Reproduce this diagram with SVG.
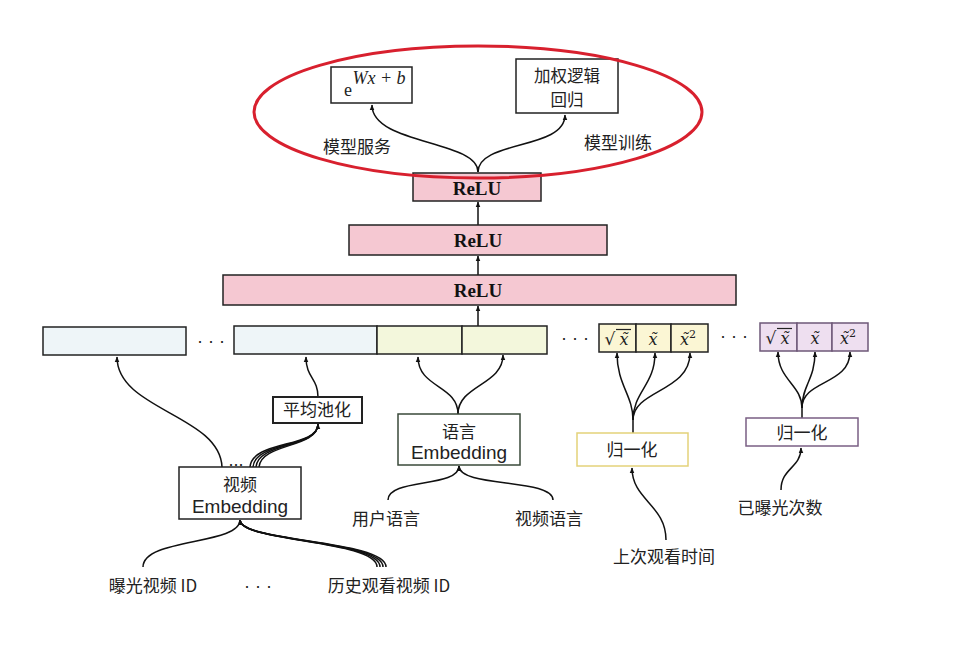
<svg xmlns="http://www.w3.org/2000/svg" width="976" height="652" viewBox="0 0 976 652">
<defs>
<marker id="ah" viewBox="0 0 10 10" refX="9" refY="5" markerWidth="6" markerHeight="6" orient="auto" markerUnits="userSpaceOnUse">
<path d="M0,1 L10,5 L0,9 z" fill="#111"/>
</marker>
<style>
.t{font-family:"Noto Sans CJK SC","Liberation Sans",sans-serif;font-size:17px;fill:#222;text-anchor:middle}
.e{font-family:"Liberation Sans","Noto Sans CJK SC",sans-serif;font-size:19px;fill:#222;text-anchor:middle}
.relu{font-family:"Liberation Serif",serif;font-weight:bold;font-size:19px;fill:#111;text-anchor:middle}
.m{font-family:"DejaVu Serif","Liberation Serif",serif;font-style:italic;font-size:16px;fill:#222;text-anchor:middle}
.box{fill:#fff;stroke:#222;stroke-width:1.5}
.pink{fill:#f5c8d2;stroke:#222;stroke-width:1.5}
.blue{fill:#eef5f8;stroke:#222;stroke-width:1.5}
.green{fill:#f3f7dc;stroke:#222;stroke-width:1.5}
.yel{fill:#fbf6d4;stroke:#222;stroke-width:1.5}
.pur{fill:#eedff0;stroke:#6e5878;stroke-width:1.5}
.c{fill:none;stroke:#111;stroke-width:1.5}
.dots{font-family:"Liberation Sans",sans-serif;font-size:18px;fill:#222;text-anchor:middle}
</style>
</defs>
<rect width="976" height="652" fill="#fff"/>

<g id="connectors">
<path class="c" d="M478,172 C478,140 372,145 372,105" marker-end="url(#ah)"/>
<path class="c" d="M478,172 C478,140 565,150 565,115" marker-end="url(#ah)"/>
<path class="c" d="M478,225 L478,202" marker-end="url(#ah)"/>
<path class="c" d="M478,275 L478,256" marker-end="url(#ah)"/>
<path class="c" d="M478,326 L478,306" marker-end="url(#ah)"/>
<path class="c" d="M222,467 C220,415 117,410 117,357" marker-end="url(#ah)"/>
<path class="c" d="M250,467 C252,440 318,448 318,424" marker-end="url(#ah)"/>
<path class="c" d="M253,467 C255,441 318,448 318,424"/>
<path class="c" d="M256,467 C258,442 318,448 318,424"/>
<path class="c" d="M259,467 C261,443 318,448 318,424"/>
<path class="c" d="M318,397 C318,378 306,378 306,357" marker-end="url(#ah)"/>
<path class="c" d="M458,414 C458,385 418,388 418,357" marker-end="url(#ah)"/>
<path class="c" d="M458,414 C458,385 503,385 503,355" marker-end="url(#ah)"/>
<path class="c" d="M388,500 C388,478 459,488 459,466" marker-end="url(#ah)"/>
<path class="c" d="M553,500 C553,478 459,488 459,466" marker-end="url(#ah)"/>
<path class="c" d="M143,567 C143,538 240,545 240,520" marker-end="url(#ah)"/>
<path class="c" d="M377,567 C377,540 240,542 240,520"/>
<path class="c" d="M380,567 C380,540 240,542 240,520"/>
<path class="c" d="M383,567 C383,540 240,542 240,520"/>
<path class="c" d="M386,567 C386,540 240,542 240,520"/>
<path class="c" d="M633,433 L633,420 C633,395 617,385 617,353" marker-end="url(#ah)"/>
<path class="c" d="M633,420 C633,392 655,385 655,353" marker-end="url(#ah)"/>
<path class="c" d="M633,420 C633,390 690,392 690,353" marker-end="url(#ah)"/>
<path class="c" d="M802,418 L802,408 C802,385 778,380 778,352" marker-end="url(#ah)"/>
<path class="c" d="M802,408 C802,385 815,380 815,352" marker-end="url(#ah)"/>
<path class="c" d="M802,408 C802,380 850,385 850,352" marker-end="url(#ah)"/>
<path class="c" d="M666,540 C666,505 632,500 632,468" marker-end="url(#ah)"/>
<path class="c" d="M781,490 C781,468 801,468 801,448" marker-end="url(#ah)"/>
</g>

<g id="serve-box">
<rect class="box" x="331" y="67" width="81" height="36"/>
<text x="348" y="96" font-family="Liberation Serif,serif" font-size="18" fill="#222" text-anchor="middle">e</text>
<text x="379" y="84" font-family="Liberation Serif,serif" font-style="italic" font-size="18" fill="#222" text-anchor="middle">Wx + b</text>
</g>
<g id="train-box">
<rect class="box" x="516" y="59" width="102" height="54"/>
<text class="t" x="567" y="82" style="font-size:16.5px">加权逻辑</text>
<text class="t" x="567" y="106" style="font-size:16.5px">回归</text>
</g>
<g id="labels-top">
<text class="t" x="357" y="153">模型服务</text>
<text class="t" x="618" y="149">模型训练</text>
</g>

<g id="relu3">
<rect class="pink" x="413" y="173" width="128" height="28"/>
<text class="relu" x="477" y="195">ReLU</text>
</g>
<g id="relu2">
<rect class="pink" x="349" y="225" width="258" height="30"/>
<text class="relu" x="478" y="247">ReLU</text>
</g>
<g id="relu1">
<rect class="pink" x="223" y="275" width="513" height="30"/>
<text class="relu" x="478" y="297">ReLU</text>
</g>

<g id="ellipse">
<ellipse cx="478" cy="112" rx="224" ry="66" fill="none" stroke="#d8202e" stroke-width="3"/>
</g>

<g id="feat-video1">
<rect class="blue" x="43" y="327" width="143" height="28"/>
</g>
<text class="dots" x="211" y="347">· · ·</text>
<g id="feat-video2">
<rect class="blue" x="234" y="326" width="143" height="28"/>
</g>
<g id="feat-lang">
<rect class="green" x="377" y="326" width="85" height="28"/>
<rect class="green" x="462" y="326" width="85" height="28"/>
</g>
<text class="dots" x="575" y="344">· · ·</text>
<g id="feat-time">
<rect class="yel" x="599" y="324" width="37" height="28"/>
<rect class="yel" x="636" y="324" width="35" height="28"/>
<rect class="yel" x="671" y="324" width="37" height="28"/>
<text x="610" y="345" font-family="DejaVu Serif,serif" font-size="17" fill="#222" text-anchor="middle">√</text>
<line x1="616" y1="329.5" x2="631" y2="329.5" stroke="#222" stroke-width="1.2"/>
<text class="m" x="624" y="345">x̃</text>
<text class="m" x="653" y="345">x̃</text>
<text class="m" x="688" y="345">x̃<tspan font-size="11" font-style="normal" dy="-7">2</tspan></text>
</g>
<text class="dots" x="734" y="342">· · ·</text>
<g id="feat-count">
<rect class="pur" x="760" y="323" width="37" height="28"/>
<rect class="pur" x="797" y="323" width="35" height="28"/>
<rect class="pur" x="832" y="323" width="36" height="28"/>
<text x="771" y="344" font-family="DejaVu Serif,serif" font-size="17" fill="#222" text-anchor="middle">√</text>
<line x1="777" y1="328.5" x2="792" y2="328.5" stroke="#222" stroke-width="1.2"/>
<text class="m" x="785" y="344">x̃</text>
<text class="m" x="815" y="344">x̃</text>
<text class="m" x="848" y="344">x̃<tspan font-size="11" font-style="normal" dy="-7">2</tspan></text>
</g>

<g id="avgpool">
<rect class="box" x="273" y="397" width="89" height="26" style="stroke-width:2"/>
<text class="t" x="317" y="416">平均池化</text>
</g>
<g id="video-emb">
<rect class="box" x="179" y="467" width="122" height="52" stroke="#333"/>
<text class="t" x="240" y="491">视频</text>
<text class="e" x="240" y="513">Embedding</text>
<text class="dots" x="236" y="466" font-size="14">...</text>
</g>
<g id="lang-emb">
<rect class="box" x="398" y="414" width="122" height="51" style="stroke:#3a4a3a"/>
<text class="t" x="459" y="438">语言</text>
<text class="e" x="459" y="459">Embedding</text>
</g>
<g id="norm-time">
<rect class="box" x="577" y="433" width="111" height="33" style="stroke:#e4d27a"/>
<text class="t" x="632" y="456">归一化</text>
</g>
<g id="norm-count">
<rect class="box" x="746" y="418" width="112" height="28" style="stroke:#7a5f84"/>
<text class="t" x="802" y="439">归一化</text>
</g>

<g id="inputs">
<text class="t" x="386" y="525">用户语言</text>
<text class="t" x="549" y="525">视频语言</text>
<text class="t" x="153" y="592">曝光视频 ID</text>
<text class="dots" x="258" y="592">· · ·</text>
<text class="t" x="389" y="592">历史观看视频 ID</text>
<text class="t" x="664" y="563">上次观看时间</text>
<text class="t" x="780" y="514">已曝光次数</text>
</g>
</svg>
